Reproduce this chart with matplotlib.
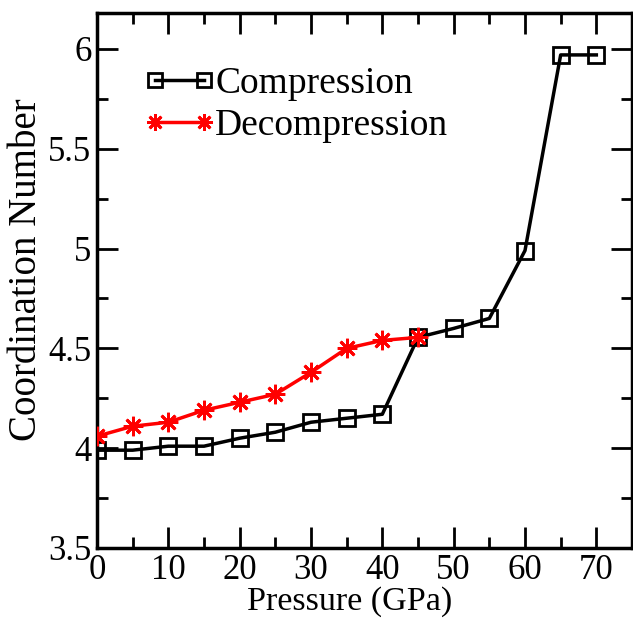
import matplotlib
matplotlib.use("Agg")
import matplotlib.pyplot as plt
from matplotlib.ticker import MultipleLocator

plt.rcParams['font.family'] = ['Liberation Serif', 'DejaVu Serif']
plt.rcParams['mathtext.fontset'] = 'stix'

comp_p = [0, 5, 10, 15, 20, 25, 30, 35, 40, 45, 50, 55, 60, 65, 70]
comp_cn = [3.99, 3.99, 4.01, 4.01, 4.05, 4.08, 4.13, 4.15, 4.17, 4.555, 4.60, 4.65, 4.99, 5.97, 5.97]
decomp_p = [0, 5, 10, 15, 20, 25, 30, 35, 40, 45]
decomp_cn = [4.06, 4.11, 4.13, 4.19, 4.23, 4.27, 4.38, 4.50, 4.54, 4.555]

xticks = [0, 10, 20, 30, 40, 50, 60, 70]
yticks = [3.5, 4, 4.5, 5, 5.5, 6]
ytick_labels = ['3.5', '4', '4.5', '5', '5.5', '6']

fig = plt.figure(figsize=(6.33, 6.2), dpi=100)
ax = fig.add_axes([97/633, 1 - 548/620, 535/633, 535/620])

ax.plot(comp_p, comp_cn, color='black', lw=2.5, marker='s', ms=12,
        mfc='none', mec='black', mew=2, label='Compression', zorder=3)
ax.plot(decomp_p, decomp_cn, color='red', lw=2.5, marker=(8, 2, 0), ms=14,
        mec='red', mew=2, label='Decompression', zorder=4)

ax.set_xlim(0, 75)
ax.set_ylim(3.5, 6.18)
ax.set_xticks(xticks)
ax.set_yticks(yticks)
ax.set_yticklabels(ytick_labels)
ax.xaxis.set_minor_locator(MultipleLocator(5))
ax.yaxis.set_minor_locator(MultipleLocator(0.25))
ax.tick_params(which='both', direction='in', top=True, right=True, width=2,
               labelsize=25)
ax.tick_params(which='major', length=15, pad=4)
ax.tick_params(which='minor', length=8)
for s in ax.spines.values():
    s.set_linewidth(2.5)

ax.set_xlabel('Pressure (GPa)', fontsize=24.5, labelpad=0, x=0.473)
ax.set_ylabel('Coordination Number', fontsize=28, labelpad=2, y=0.52)

ax.legend(loc='upper left', bbox_to_anchor=(0.088, 0.9), frameon=False,
          fontsize=27, numpoints=2, markerscale=0.85, handlelength=1.9,
          handletextpad=0.0, labelspacing=0.2, borderpad=0, borderaxespad=0)

fig.savefig('out.png', dpi=100)
